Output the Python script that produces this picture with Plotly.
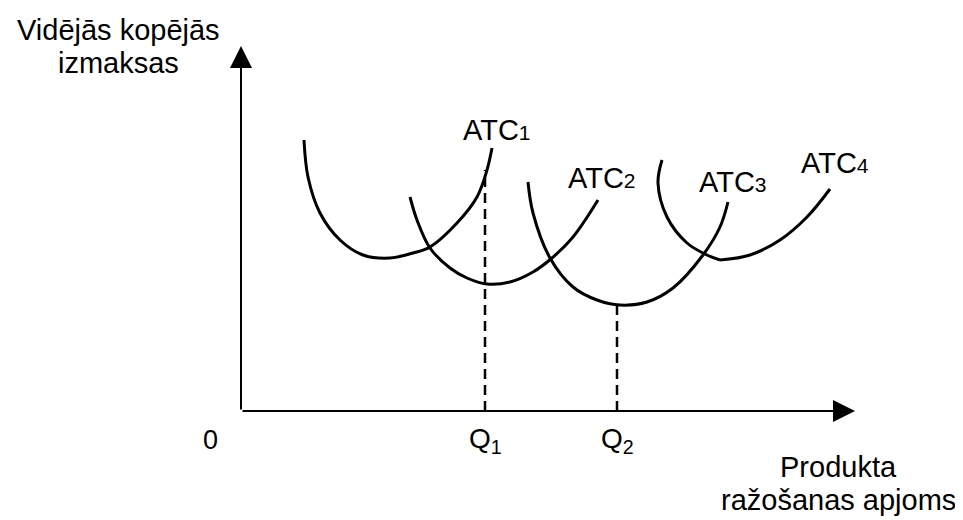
import plotly.graph_objects as go

# Coordinates: quantity to the right of the origin, cost upward from the horizontal axis
atc1_q = [63, 67, 79, 99, 122, 149, 172, 189, 216, 236, 246, 251]
atc1_c = [271, 234, 198, 171, 156, 153, 158, 164, 188, 214, 241, 263]

atc2_q = [169, 176, 189, 209, 226, 246, 269, 292, 311, 332, 357]
atc2_c = [214, 191, 163, 143, 133, 127, 129, 139, 153, 174, 211]

atc3_q = [287, 292, 309, 332, 356, 379, 406, 432, 462, 479, 487]
atc3_c = [229, 198, 153, 124, 111, 106, 109, 123, 156, 184, 209]

atc4_q = [421, 417, 426, 446, 466, 479, 509, 539, 566, 589]
atc4_c = [251, 228, 194, 168, 156, 151, 156, 171, 194, 222]
atc4_kink = 5  # ATC4 has a corner at its minimum

q_levels = [244, 376]
q_costs = [241, 106]
q_labels = ["Q<sub>1</sub>", "Q<sub>2</sub>"]

y_axis_top = 365
x_axis_end = 614

FONT = "Liberation Sans, Arial, sans-serif"
BLACK = "#000000"

fig = go.Figure()

curves = [
    (atc1_q, atc1_c),
    (atc2_q, atc2_c),
    (atc3_q, atc3_c),
    (atc4_q[: atc4_kink + 1], atc4_c[: atc4_kink + 1]),
    (atc4_q[atc4_kink:], atc4_c[atc4_kink:]),
]
for q, c in curves:
    fig.add_trace(
        go.Scatter(
            x=q,
            y=c,
            mode="lines",
            line={"color": BLACK, "width": 3, "shape": "spline", "smoothing": 1},
            hoverinfo="skip",
            showlegend=False,
        )
    )

for q, c in zip(q_levels, q_costs):
    fig.add_trace(
        go.Scatter(
            x=[q, q],
            y=[0, c],
            mode="lines",
            line={"color": BLACK, "width": 2.5, "dash": "10px,6px"},
            hoverinfo="skip",
            showlegend=False,
        )
    )

# axes with arrowheads
for x_end, y_end in [(0, y_axis_top), (x_axis_end, 0)]:
    fig.add_annotation(
        x=x_end, y=y_end, ax=0, ay=0,
        xref="x", yref="y", axref="x", ayref="y",
        text="", showarrow=True,
        arrowhead=2, arrowsize=2.2, arrowwidth=2, arrowcolor=BLACK,
    )

def label(x, y, text, size=29):
    fig.add_annotation(
        x=x, y=y, xref="x", yref="y", text=text, showarrow=False,
        font={"family": FONT, "size": size, "color": BLACK},
        xanchor="center", yanchor="middle",
    )

sub = "<span style='font-size:21px'>{}</span>"
label(-123, 381, "Vidējās kopējās")
label(-123, 348, "izmaksas")
label(256, 281, "ATC" + sub.format(1))
label(361, 233, "ATC" + sub.format(2))
label(492, 229, "ATC" + sub.format(3))
label(594, 248, "ATC" + sub.format(4))
label(-31, -29, "0", 27)
for q, t in zip(q_levels, q_labels):
    label(q, -29, t, 28)
label(597, -56, "Produkta")
label(597, -89, "ražošanas apjoms")

# the page adds an 8px body margin, so the ranges are shifted by 8px to compensate
fig.update_layout(
    width=963,
    height=520,
    margin={"l": 0, "r": 0, "t": 0, "b": 0},
    paper_bgcolor="white",
    plot_bgcolor="white",
    xaxis={"range": [-233, 730], "visible": False, "fixedrange": True},
    yaxis={"range": [-117, 403], "visible": False, "fixedrange": True},
)

fig.write_html("out.html")
